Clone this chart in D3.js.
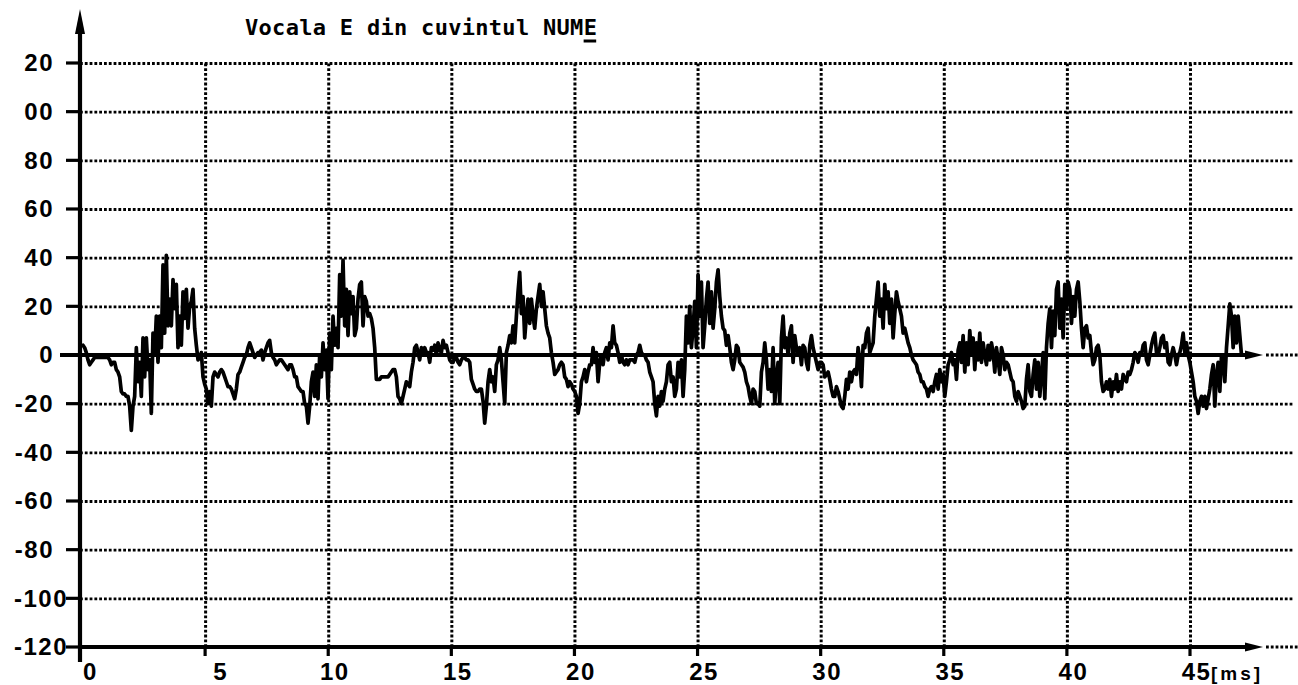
<!DOCTYPE html>
<html>
<head>
<meta charset="utf-8">
<script src="https://cdn.jsdelivr.net/npm/d3@7"></script>
<style>
  html, body { margin: 0; padding: 0; background: #fff; }
  svg { display: block; }
</style>
</head>
<body>
<svg id="chart" width="1298" height="685"></svg>
<script>
// ---- data ----
const chartTitle = "Vocala E din cuvintul NUME";
const xTickValues = [0, 5, 10, 15, 20, 25, 30, 35, 40, 45];
const xTickLabels = ["0", "5", "10", "15", "20", "25", "30", "35", "40", "45"];
const xUnitLabel = "[ms]";
const yTickValues = [120, 100, 80, 60, 40, 20, 0, -20, -40, -60, -80, -100, -120];
const yTickLabels = ["20", "00", "80", "60", "40", "20", "0", "-20", "-40", "-60", "-80", "-100", "-120"];

// waveform samples: first sample time and spacing in ms
const sampleStartMs = 0.04;
const sampleStepMs = 0.0677;
const samples = [
  4, 3, 1, -2, -4, -3, -2, -1, -1, -1,
  -1, -1, -1, -1, -1, -1, -2, -4, -3, -3,
  -6, -7, -9, -15, -16, -16, -17, -17, -21, -31,
  -21, -17, 3, -11, -3, -17, 7, -9, 7, -6,
  -2, -24, 9, 0, 16, -3, 16, 3, 37, 9,
  41, 12, 23, 12, 31, 19, 29, 3, 16, 4,
  26, 15, 27, 11, 20, 22, 27, 11, 4, -2,
  -1, 1, -9, -12, -14, -20, -15, -21, -9, -7,
  -8, -9, -7, -6, -7, -9, -11, -13, -13, -14,
  -16, -18, -14, -8, -7, -5, -3, -1, 0, 3,
  5, 3, 1, -1, 0, 1, 1, 2, -2, 1,
  3, 5, 6, 1, -1, -2, -4,
  -3, -2, -2, -3, -4, -5, -6, -4, -4, -6,
  -9, -9, -13, -14, -15, -15, -20, -21, -28, -21,
  -11, -7, -17, -4, -18, 0, -9, 5, -6, 2,
  -18, 9, -6, 16, 4, 11, 3, 33, 16, 39,
  12, 27, 8, 26, 17, 24, 8, 11, 23, 29,
  30, 12, 24, 22, 16, 17, 15, 11, 3, -10,
  -10, -10, -9, -9, -9, -9, -9, -8, -7, -6,
  -6, -9, -17, -18, -20, -17, -14, -11, -12, -13,
  -7, -3, 3, 4, 1, -2, 3, 0, 3, 1,
  1, -3, 3, 2, 4, 0, 5, 2, 1, 6,
  3, 4, 1, -2, -3, -3, -1, -1, -3, -4,
  -2, -1, -1, -2, -2, -3, -10, -12, -14, -15,
  -15, -14, -14, -19, -28, -21, -11, -6, -11, -9,
  -15, -4, -2, 3, -2, -11, -20, 1, 4, 8,
  5, 12, 5, 16, 26, 34, 17, 24, 7, 16,
  23, 13, 23, 16, 11, 19, 24, 29, 20, 26,
  19, 12, 9, 7, 1, -3, -8, -7, -6, -4,
  -3, -4, -9, -10, -13, -11, -12, -14, -15, -17,
  -24, -20, -11, -9, -6, -11, -7, -4, -4, 3,
  -3, 1, -11, -3, 0, -4, 1, 3, -2, 5,
  3, 12, 5, 4, 1, -3, 0, -3, -4, -2,
  -4, -2, -2, -2, -3, 0, 1, 4, 1, 0,
  0, -2, -3, -7, -9, -11, -20, -25, -17, -21,
  -15, -19, -14, -11, -4, -3, -11, -9, -17, -14,
  -3, -9, -2, -17, -6, 16, 5, 20, 3, 11,
  22, 3, 33, 16, 30, 3, 12, 23, 30, 13,
  26, 11, 19, 30, 35, 24, 16, 11, 10, 4,
  8, 3, -3, -6, -2, 4, 3, -3, -4, -5,
  -7, -11, -13, -17, -20, -14, -15, -20, -20, -21,
  -7, -3, 5, -2, -14, -6, -15, 3, -20, -9,
  -3, -20, 7, 16, 3, 7, 0, 9, 12, -3,
  8, 3, 0, 3, -4, 4, 3, -3, -6, 4,
  8, 3, 0, -3, -6, -3, -3, -4, -9, -8,
  -7, -10, -14, -17, -17, -13, -15, -18, -21, -22,
  -17, -10, -14, -7, -11, -7, -6, -8, 3, -2,
  -13, 4, 3, 9, 11, 1, 3, 5, 16, 23,
  30, 16, 23, 11, 29, 19, 26, 13, 23, 7,
  17, 26, 22, 19, 16, 9, 11, 8, 5, 3,
  0, -2, -3, -4, -7, -8, -11, -11, -13, -14,
  -17, -14, -13, -15, -11, -8, -14, -6, -11, -8,
  -17, -11, -4, -2, 1, -4, -2, -10, 2, 5,
  -3, 8, -7, 5, -4, 10, 0, 7, -6, 5,
  -2, 9, -3, 5, 0, -4, 4, -2, 5, 1,
  -7, 3, -2, -8, 3, 0, -6, -3, -4, -7,
  -10, -11, -17, -19, -15, -17, -19, -22, -21, -10,
  -4, -15, -17, -8, -2, -14, -3, -17, -8, 1,
  -18, 3, 13, 19, 3, 18, 8, 27, 30, 11,
  23, 7, 29, 19, 30, 27, 13, 24, 16, 27,
  30, 22, 11, 3, 11, 12, 7, 8, 1, -4,
  -2, 3, 4, 0, -11, -15, -14, -11, -14, -10,
  -17, -11, -14, -8, -15, -11, -14, -8, -10, -11,
  -7, -8, -6, -3, 1, 0, -3, 1, 0, 4,
  5, -2, -4, 0, 4, 7, 9, 1, 0, 3,
  7, 8, 3, 5, -3, -4, 0, 3, 0, -4,
  0, 1, 4, 9, 1, 5, 0, -3, -7, -11,
  -17, -19, -24, -19, -17, -21, -17, -22, -18, -14,
  -8, -4, -21, -8, -3, -15, 0, -2, -11, 3,
  12, 21, 16, 3, 16, 5, 16, 8, 0
];

// ---- layout ----
const W = 1298, H = 685;
const axisLeftX = 80;
const gridRight = 1293;
const ink = "#000";
const labelFont = "'Liberation Sans', Arial, sans-serif";
const dotPattern = "2.8,2.0";

const svg = d3.select("#chart");
svg.append("rect").attr("width", W).attr("height", H).attr("fill", "#fff");

const x = d3.scaleLinear().domain([0, 45]).range([82, 1190]);
const y = d3.scaleLinear().domain([-120, 120]).range([647, 63]);

// ---- horizontal dotted grid and value labels ----
const yAxis = d3.axisLeft(y)
  .tickValues(yTickValues)
  .tickFormat((d, i) => yTickLabels[i])
  .tickSize(-(gridRight - axisLeftX))
  .tickPadding(26);

const gy = svg.append("g")
  .attr("transform", `translate(${axisLeftX},0)`)
  .call(yAxis);
gy.select(".domain").remove();
gy.selectAll(".tick line")
  .attr("stroke", ink)
  .attr("stroke-width", 2.8)
  .attr("stroke-dasharray", dotPattern)
  .attr("display", d => (d === 0 || d === -120) ? "none" : null);
gy.selectAll(".tick text")
  .attr("font-family", labelFont)
  .attr("font-weight", "bold")
  .attr("font-size", 24)
  .attr("letter-spacing", 1.5)
  .attr("fill", ink)
  .attr("x", (d, i) => yTickLabels[i].length > 3 ? -12 : -26);

// short ticks left of the vertical axis
svg.append("g").selectAll("line")
  .data(yTickValues)
  .join("line")
  .attr("x1", axisLeftX - 14).attr("x2", axisLeftX)
  .attr("y1", d => y(d)).attr("y2", d => y(d))
  .attr("stroke", ink).attr("stroke-width", 3.2);

// ---- vertical dotted grid and time labels ----
const xAxis = d3.axisBottom(x)
  .tickValues(xTickValues)
  .tickFormat((d, i) => xTickLabels[i])
  .tickSize(-(y(-120) - y(120)))
  .tickPadding(16);

const gx = svg.append("g")
  .attr("transform", `translate(0,${y(-120)})`)
  .call(xAxis);
gx.select(".domain").remove();
gx.selectAll(".tick line")
  .attr("stroke", ink)
  .attr("stroke-width", 3)
  .attr("stroke-dasharray", dotPattern)
  .attr("display", d => d === 0 ? "none" : null);
gx.selectAll(".tick text")
  .attr("font-family", labelFont)
  .attr("font-weight", "bold")
  .attr("font-size", 24)
  .attr("letter-spacing", 1.5)
  .attr("fill", ink)
  .attr("dx", (d, i) => xTickLabels[i].length === 1 ? (d === 0 ? 8 : 15) : 6);

// short ticks below the time axis
svg.append("g").selectAll("line")
  .data(xTickValues.filter(d => d > 0))
  .join("line")
  .attr("x1", d => x(d)).attr("x2", d => x(d))
  .attr("y1", y(-120)).attr("y2", y(-120) + 9)
  .attr("stroke", ink).attr("stroke-width", 3.2);

// unit label after the last time tick
svg.append("text")
  .attr("x", x(45) + 21)
  .attr("y", y(-120) + 33)
  .attr("font-family", labelFont)
  .attr("font-weight", "bold")
  .attr("font-size", 19)
  .attr("letter-spacing", 3)
  .attr("fill", ink)
  .text(xUnitLabel);

// ---- axes drawn as solid lines with arrowheads ----
function arrowRight(yPos, startX, endX) {
  svg.append("line")
    .attr("x1", startX).attr("x2", endX - 10)
    .attr("y1", yPos).attr("y2", yPos)
    .attr("stroke", ink).attr("stroke-width", 3.8);
  svg.append("path")
    .attr("d", `M${endX - 18},${yPos - 4.5} L${endX},${yPos} L${endX - 18},${yPos + 4.5} Z`)
    .attr("fill", ink);
  svg.append("line")
    .attr("x1", endX + 3).attr("x2", W)
    .attr("y1", yPos).attr("y2", yPos)
    .attr("stroke", ink).attr("stroke-width", 2.8)
    .attr("stroke-dasharray", dotPattern);
}
arrowRight(y(0), 60, 1263);
arrowRight(y(-120), axisLeftX - 2, 1263);

// vertical axis with upward arrow
svg.append("line")
  .attr("x1", axisLeftX).attr("x2", axisLeftX)
  .attr("y1", 28).attr("y2", y(-120) + 15)
  .attr("stroke", ink).attr("stroke-width", 4.2);
svg.append("path")
  .attr("d", `M${axisLeftX},9 L${axisLeftX + 5},34 L${axisLeftX - 5},34 Z`)
  .attr("fill", ink);

// ---- waveform ----
const line = d3.line()
  .x((d, i) => x(sampleStartMs + i * sampleStepMs))
  .y(d => y(d));

svg.append("path")
  .datum(samples)
  .attr("d", line)
  .attr("fill", "none")
  .attr("stroke", ink)
  .attr("stroke-width", 3.7)
  .attr("stroke-linejoin", "round")
  .attr("stroke-linecap", "round");

// ---- title, with the vowel underlined ----
const titleText = svg.append("text")
  .attr("x", 245)
  .attr("y", 35)
  .attr("font-family", "'DejaVu Sans Mono', monospace")
  .attr("font-weight", "bold")
  .attr("font-size", 22)
  .attr("letter-spacing", 0.3)
  .attr("fill", ink)
  .text(chartTitle);

const lastIdx = chartTitle.length - 1;
const tNode = titleText.node();
const ulStart = tNode.getStartPositionOfChar(lastIdx).x;
const ulEnd = tNode.getEndPositionOfChar(lastIdx).x;
svg.append("line")
  .attr("x1", ulStart).attr("x2", ulEnd - 1)
  .attr("y1", 41).attr("y2", 41)
  .attr("stroke", ink).attr("stroke-width", 3);
</script>
</body>
</html>
